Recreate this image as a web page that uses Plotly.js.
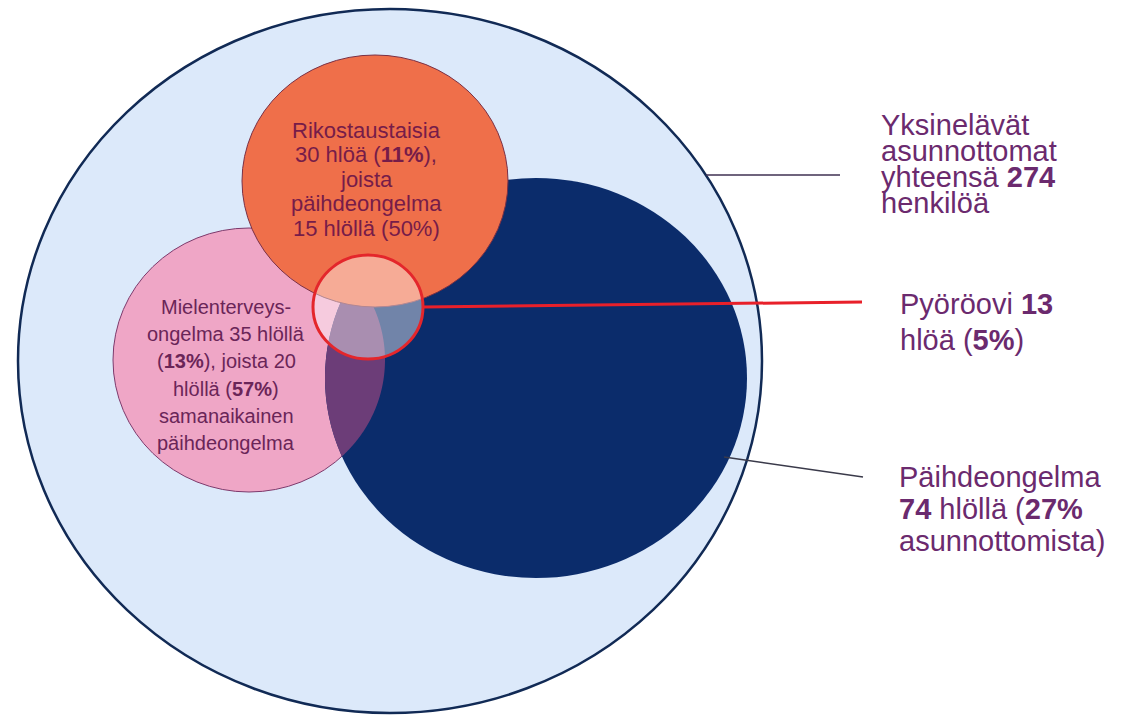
<!DOCTYPE html>
<html>
<head>
<meta charset="utf-8">
<script src="https://cdn.plot.ly/plotly-3.0.1.min.js"></script>
<style>html,body{margin:0;padding:0;background:#fff;}#chart{width:1131px;height:717px;}</style>
</head>
<body>
<div id="chart"></div>
<script>
// ---- data ----
const groups      = ['Yksinelävät asunnottomat', 'Päihdeongelma', 'Mielenterveysongelma', 'Rikostaustaisia', 'Pyöröovi'];
const counts      = [274, 74, 35, 30, 13];
const sharePct    = [100, 27, 13, 11, 5];
const withSubst   = [null, null, 20, 15, null];   // of which also substance abuse
const withSubstPct= [null, null, 57, 50, null];

// ---- layout geometry (pixels, y down) ----
const GEO = {
  outer:  {cx: 390, cy: 361, rx: 372, ry: 352},
  navy:   {cx: 536, cy: 378, rx: 211, ry: 200},
  pink:   {cx: 249, cy: 360, rx: 136, ry: 132},
  orange: {cx: 375, cy: 181, rx: 133, ry: 126},
  ring:   {cx: 368, cy: 307, rx: 55,  ry: 52}
};
const FONT = "Arial, 'Liberation Sans', sans-serif";

function ell(g, fill, line, width, extra) {
  return Object.assign({type: 'circle', xref: 'x', yref: 'y',
    x0: g.cx - g.rx, x1: g.cx + g.rx, y0: g.cy - g.ry, y1: g.cy + g.ry,
    fillcolor: fill, line: {color: line, width: width}, layer: 'above'}, extra || {});
}
function inside(g, x, y) { const dx = (x - g.cx) / g.rx, dy = (y - g.cy) / g.ry; return dx*dx + dy*dy <= 1.0000001; }
function lensPath(a, b) {
  const pts = [];
  const n = 720;
  [[a, b], [b, a]].forEach(([p, q]) => {
    for (let i = 0; i < n; i++) {
      const t = 2 * Math.PI * i / n;
      const x = p.cx + p.rx * Math.cos(t), y = p.cy + p.ry * Math.sin(t);
      if (inside(q, x, y)) pts.push([x, y]);
    }
  });
  const mx = pts.reduce((s, p) => s + p[0], 0) / pts.length;
  const my = pts.reduce((s, p) => s + p[1], 0) / pts.length;
  pts.sort((u, v) => Math.atan2(u[1] - my, u[0] - mx) - Math.atan2(v[1] - my, v[0] - mx));
  return 'M ' + pts.map(p => p[0].toFixed(2) + ',' + p[1].toFixed(2)).join(' L ') + ' Z';
}

const shapes = [
  ell(GEO.outer, '#dce9fa', '#112a55', 2.5),
  ell(GEO.pink, '#efa6c6', '#7d3a6c', 1),
  ell(GEO.navy, '#0b2c6b', '#0b2c6b', 0),
  {type: 'path', xref: 'x', yref: 'y', path: lensPath(GEO.pink, GEO.navy), fillcolor: '#6c3d78', line: {width: 0}, layer: 'above'},
  ell(GEO.orange, '#ef6f4a', '#7a3045', 1),
  ell(GEO.ring, 'rgba(255,255,255,0.42)', '#e4262b', 3),
  // connector lines
  {type: 'line', xref: 'x', yref: 'y', x0: 706, y0: 175, x1: 840, y1: 175, line: {color: '#3f3152', width: 1.5}, layer: 'above'},
  {type: 'line', xref: 'x', yref: 'y', x0: GEO.ring.cx + GEO.ring.rx, y0: 307, x1: 862, y1: 302, line: {color: '#e8202a', width: 3}, layer: 'above'},
  {type: 'line', xref: 'x', yref: 'y', x0: 724, y0: 457, x1: 863, y1: 477, line: {color: '#3a3a4a', width: 1.5}, layer: 'above'}
];

const b = s => '<b>' + s + '</b>';
const annotations = [];
function addLines(lines, x, y0, dy, size, color, anchor) {
  lines.forEach((t, i) => annotations.push({
    text: t, x: x, y: y0 + i * dy, xref: 'x', yref: 'y', showarrow: false,
    xanchor: anchor, yanchor: 'middle', font: {family: FONT, size: size, color: color}
  }));
}
// right-hand labels
addLines(['Yksinelävät', 'asunnottomat', 'yhteensä ' + b(counts[0]), 'henkilöä'], 879, 125, 26, 29, '#6b2a6e', 'left');
addLines([groups[4] + ' ' + b(counts[4]), 'hlöä (' + b(sharePct[4] + '%') + ')'], 898, 304, 36, 29, '#6b2a6e', 'left');
addLines([groups[1], b(counts[1]) + ' hlöllä (' + b(sharePct[1] + '%'), 'asunnottomista)'], 897, 477, 32, 29, '#6b2a6e', 'left');
// orange circle text
addLines([groups[3], counts[3] + ' hlöä (' + b(sharePct[3] + '%') + '),', 'joista', 'päihdeongelma',
          withSubst[3] + ' hlöllä (' + withSubstPct[3] + '%)'], 366, 130, 24.5, 22, '#761c49', 'center');
// pink circle text
addLines(['Mielenterveys-', 'ongelma ' + counts[2] + ' hlöllä', '(' + b(sharePct[2] + '%') + '), joista ' + withSubst[2],
          'hlöllä (' + b(withSubstPct[2] + '%') + ')', 'samanaikainen', 'päihdeongelma'], 226, 307, 27.2, 20, '#6a2558', 'center');

const layout = {
  width: 1131, height: 717,
  margin: {l: 0, r: 0, t: 0, b: 0},
  paper_bgcolor: '#ffffff', plot_bgcolor: '#ffffff',
  showlegend: false,
  xaxis: {range: [0, 1131], visible: false, fixedrange: true},
  yaxis: {range: [717, 0], visible: false, fixedrange: true},
  shapes: shapes,
  annotations: annotations
};
Plotly.newPlot('chart', [{x: [], y: [], type: 'scatter', hoverinfo: 'skip'}], layout, {staticPlot: true, displayModeBar: false});
</script>
</body>
</html>
